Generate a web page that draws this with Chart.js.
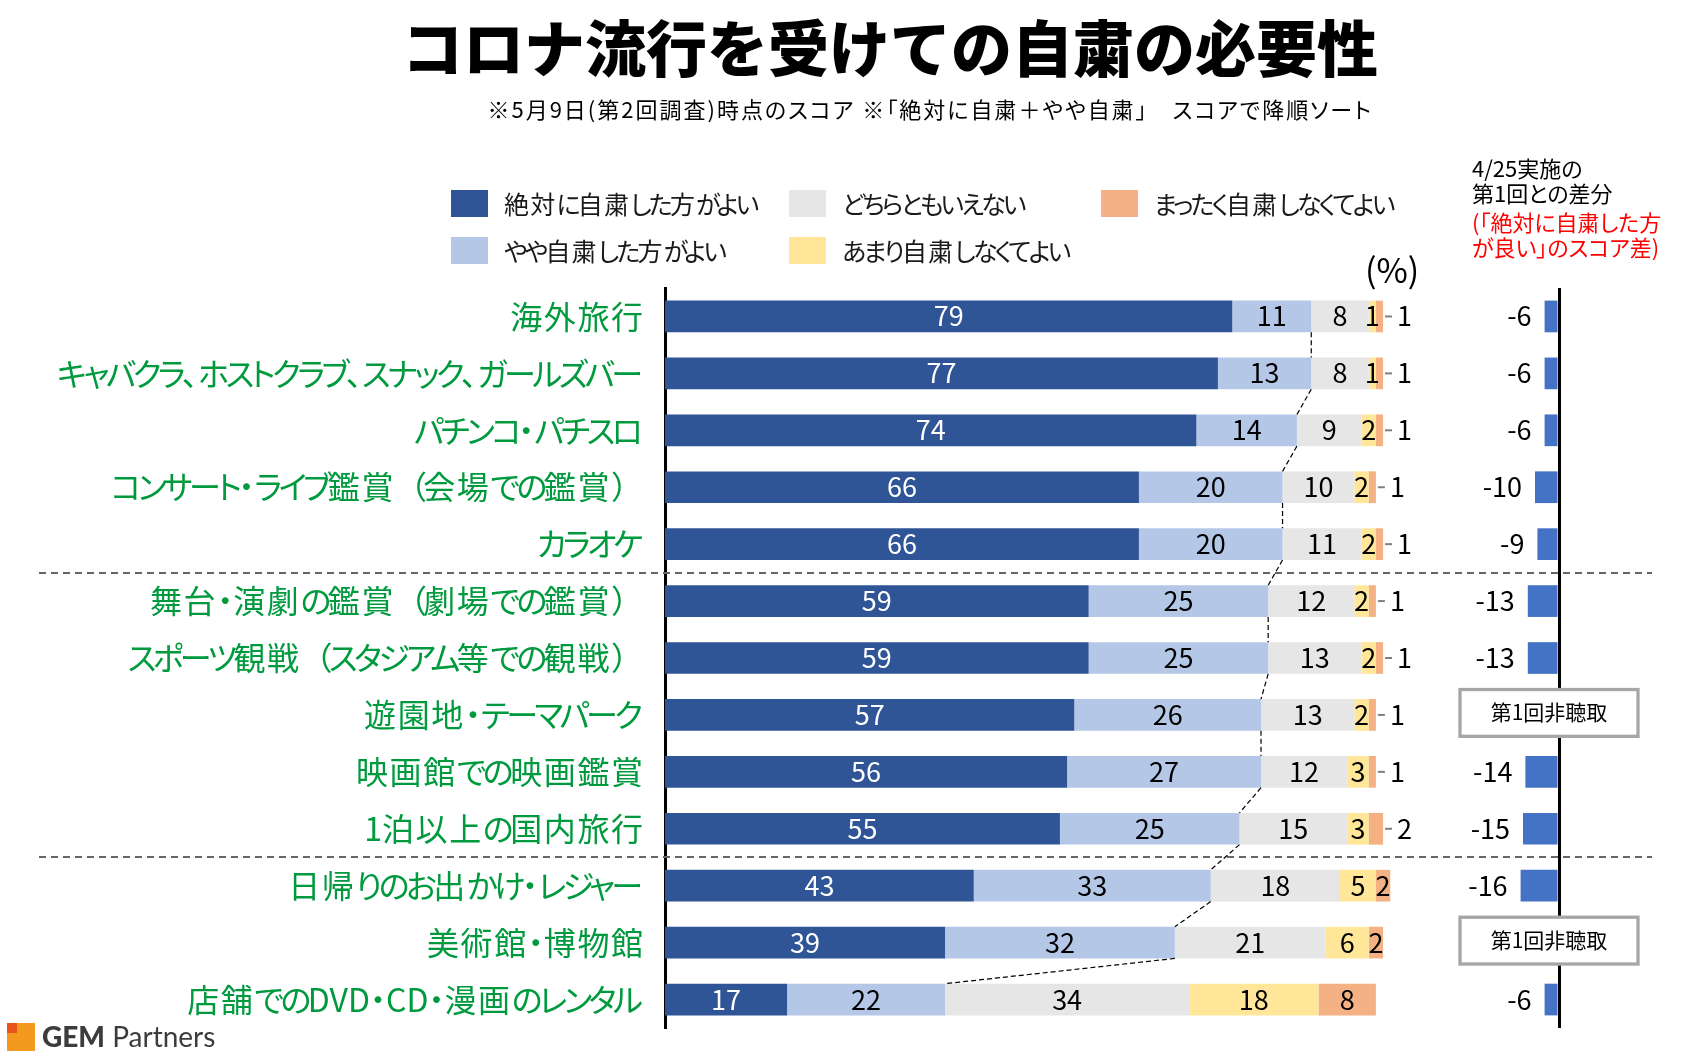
<!DOCTYPE html>
<html lang="ja">
<head>
<meta charset="utf-8">
<title>コロナ流行を受けての自粛の必要性</title>
<script src="https://cdn.jsdelivr.net/npm/chart.js@4.4.1/dist/chart.umd.min.js"></script>
<style>
  html, body { margin:0; padding:0; background:#fff; }
  body { width:1700px; height:1060px; position:relative; overflow:hidden;
         font-family:"Noto Sans CJK JP","Noto Sans",sans-serif; color:#1a1a1a; }
  #chart { position:absolute; left:0; top:0; }
  .abs { position:absolute; white-space:nowrap; }
  #title { left:390px; width:1000px; top:15px; text-align:center; font-size:61px; line-height:61px; font-weight:900; color:#000; }
  #subtitle { right:327px; top:97px; font-size:22px; line-height:22px; color:#000; font-feature-settings:"palt"; letter-spacing:2px; }
  #legend { position:absolute; left:451px; top:180px; display:grid; grid-template-columns:338px 312px auto; grid-template-rows:47.3px 47.3px; grid-auto-flow:column; }
  .li { display:flex; align-items:center; }
  .sw { width:37px; height:27px; margin-right:16px; flex:none; }
  .lt { font-size:25px; line-height:25px; color:#1a1a1a; font-feature-settings:"palt"; white-space:nowrap; }
  #pct { left:1365px; top:252px; font-size:34px; line-height:34px; color:#000; }
  .hdr { left:1472px; font-size:22px; line-height:25px; color:#000; font-feature-settings:"palt"; }
  .red { color:#ff0000; }
  .cat { position:absolute; right:1057px; font-size:32px; line-height:32px; color:#009A3E; white-space:nowrap; font-feature-settings:"palt"; }
  .kn { letter-spacing:-0.11em; }
  .kj { letter-spacing:0.05em; }
  .pr { font-feature-settings:normal; letter-spacing:-0.12em; }
  .last { letter-spacing:0 !important; }
  #logo { left:7px; top:1023px; }
</style>
</head>
<body>
<canvas id="chart" width="1700" height="1060"></canvas>
<div id="title" class="abs">コロナ流行を受けての自粛の必要性</div>
<div id="subtitle" class="abs">※5月9日(第2回調査)時点のスコア ※「絶対に自粛＋やや自粛」　スコアで降順ソート</div>
<div id="legend"></div>
<div id="pct" class="abs">(%)</div>
<div class="abs hdr" style="top:155px;">4/25実施の<br>第1回との差分</div>
<div class="abs hdr red" style="top:209px;line-height:24.5px;">(「絶対に自粛した方<br>が良い」のスコア差)</div>
<div id="logo" class="abs">
  <div style="position:absolute;left:0;top:0;width:28px;height:28px;background:#F39A1E"></div>
  <div style="position:absolute;left:0;top:0;width:10px;height:10px;background:#E8541C"></div>
  <div style="position:absolute;left:35px;top:-3px;font-family:Lato,'Noto Sans',sans-serif;font-size:28px;line-height:32px;color:#3c3c3c;white-space:nowrap;"><b style="font-weight:900">GEM</b> Partners</div>
</div>
<script>
// ---------- data ----------
const categories = [
  '海外旅行',
  'キャバクラ、ホストクラブ、スナック、ガールズバー',
  'パチンコ・パチスロ',
  'コンサート・ライブ鑑賞（会場での鑑賞）',
  'カラオケ',
  '舞台・演劇の鑑賞（劇場での鑑賞）',
  'スポーツ観戦（スタジアム等での観戦）',
  '遊園地・テーマパーク',
  '映画館での映画鑑賞',
  '1泊以上の国内旅行',
  '日帰りのお出かけ・レジャー',
  '美術館・博物館',
  '店舗でのDVD・CD・漫画のレンタル'
];
const seriesNames = ['絶対に自粛した方がよい', 'やや自粛した方がよい', 'どちらともいえない', 'あまり自粛しなくてよい', 'まったく自粛しなくてよい'];
const absolutely = [79, 77, 74, 66, 66, 59, 59, 57, 56, 55, 43, 39, 17];
const somewhat   = [11, 13, 14, 20, 20, 25, 25, 26, 27, 25, 33, 32, 22];
const neutral    = [ 8,  8,  9, 10, 11, 12, 13, 13, 12, 15, 18, 21, 34];
const notMuch    = [ 1,  1,  2,  2,  2,  2,  2,  2,  3,  3,  5,  6, 18];
const notAtAll   = [ 1,  1,  1,  1,  1,  1,  1,  1,  1,  2,  2,  2,  8];
const diffFromFirst = [-6, -6, -6, -10, -9, -13, -13, null, -14, -15, -16, null, -6];
const diffMissingText = '第1回非聴取';
const groupStarts = [5, 10];

// ---------- styles ----------
const seriesColors = ['#2F5597', '#B4C7E7', '#E6E6E6', '#FFE699', '#F4B183'];
const labelColors  = ['#FFFFFF', '#000000', '#000000', '#000000', '#000000'];
const diffColor = '#4472C4';
const seriesValues = [absolutely, somewhat, neutral, notMuch, notAtAll];
const NUM_FONT = '27px "Noto Sans CJK JP", "Noto Sans", sans-serif';

// per-character spacing to imitate a proportional Japanese UI font
function fillStyledText(el, text) {
  const chars = Array.from(text);
  chars.forEach((ch, idx) => {
    const s = document.createElement('span');
    s.textContent = ch;
    let cls = '';
    if (/[\u3041-\u309F\u30A0-\u30FA\u30FC-\u30FF]/.test(ch)) cls = 'kn';
    else if (/[（）]/.test(ch)) cls = 'pr';
    else if (/[\u4E00-\u9FFF]/.test(ch)) cls = 'kj';
    if (idx === chars.length - 1) cls += ' last';
    s.className = cls.trim();
    el.appendChild(s);
  });
}

// legend (HTML)
const legendEl = document.getElementById('legend');
seriesNames.forEach((n, i) => {
  const li = document.createElement('div'); li.className = 'li';
  const sw = document.createElement('div'); sw.className = 'sw'; sw.style.background = seriesColors[i];
  const lt = document.createElement('div'); lt.className = 'lt'; fillStyledText(lt, n);
  li.appendChild(sw); li.appendChild(lt); legendEl.appendChild(li);
});

function baselineFor(ctx, txt, cy) {
  const m = ctx.measureText(txt);
  return cy + (m.actualBoundingBoxAscent - m.actualBoundingBoxDescent) / 2;
}

const annotations = {
  id: 'annotations',
  beforeDatasetsDraw(chart) {
    const ctx = chart.ctx, y = chart.scales.y;
    ctx.save();
    ctx.strokeStyle = '#666666'; ctx.lineWidth = 2; ctx.setLineDash([7, 5]);
    groupStarts.forEach(k => {
      const py = Math.round((y.getPixelForValue(k - 1) + y.getPixelForValue(k)) / 2);
      ctx.beginPath(); ctx.moveTo(39, py); ctx.lineTo(1652, py); ctx.stroke();
    });
    ctx.restore();
  },
  afterDatasetsDraw(chart) {
    const ctx = chart.ctx;
    ctx.save();
    // connectors between top-2 boundaries
    const m1 = chart.getDatasetMeta(1).data;
    ctx.strokeStyle = '#000'; ctx.lineWidth = 1.2; ctx.setLineDash([5, 3]);
    for (let i = 0; i < m1.length - 1; i++) {
      const a = m1[i], b = m1[i + 1];
      ctx.beginPath();
      ctx.moveTo(a.x, a.y + a.height / 2);
      ctx.lineTo(b.x, b.y - b.height / 2);
      ctx.stroke();
    }
    ctx.setLineDash([]);
    // value labels
    ctx.font = NUM_FONT;
    for (let d = 0; d < 5; d++) {
      const meta = chart.getDatasetMeta(d);
      meta.data.forEach((el, i) => {
        const v = seriesValues[d][i];
        if (v == null) return;
        const txt = String(v);
        const by = baselineFor(ctx, txt, el.y);
        ctx.fillStyle = labelColors[d];
        if (d === 4 && notMuch[i] + notAtAll[i] <= 5) {
          ctx.strokeStyle = '#808080'; ctx.lineWidth = 2;
          ctx.beginPath(); ctx.moveTo(el.x + 2, el.y); ctx.lineTo(el.x + 9, el.y); ctx.stroke();
          ctx.textAlign = 'left';
          ctx.fillText(txt, el.x + 14, by);
        } else {
          ctx.textAlign = 'center';
          ctx.fillText(txt, (el.x + el.base) / 2, by);
        }
      });
    }
    // diff labels
    const md = chart.getDatasetMeta(5);
    md.data.forEach((el, i) => {
      const v = diffFromFirst[i];
      if (v == null) return;
      const txt = String(v);
      ctx.fillStyle = '#000'; ctx.textAlign = 'right';
      ctx.fillText(txt, Math.min(el.x, el.base) - 13, baselineFor(ctx, txt, el.y));
    });
    ctx.restore();
  },
  afterDraw(chart) {
    const ctx = chart.ctx, y = chart.scales.y, x2 = chart.scales.x2;
    ctx.save();
    diffFromFirst.forEach((v, i) => {
      if (v != null) return;
      const cy = y.getPixelForValue(i) - 2;
      const cx = x2.getPixelForValue(0) - 10;
      ctx.fillStyle = '#fff';
      ctx.fillRect(cx - 90, cy - 24.5, 180, 49);
      ctx.strokeStyle = '#A6A6A6'; ctx.lineWidth = 3.3;
      ctx.strokeRect(cx - 89, cy - 23.4, 178, 46.8);
      ctx.font = '21px "Noto Sans CJK JP", sans-serif';
      ctx.fillStyle = '#000'; ctx.textAlign = 'center';
      ctx.fillText(diffMissingText, cx, baselineFor(ctx, diffMissingText, cy));
    });
    ctx.restore();
  }
};

const datasets = seriesValues.map((vals, d) => ({
  label: seriesNames[d],
  data: vals,
  backgroundColor: seriesColors[d],
  xAxisID: 'x',
  stack: 's'
}));
datasets.push({
  label: '第1回との差分',
  data: diffFromFirst,
  backgroundColor: diffColor,
  xAxisID: 'x2',
  stack: 's'
});

const chart = new Chart(document.getElementById('chart'), {
  type: 'bar',
  data: { labels: categories, datasets },
  options: {
    indexAxis: 'y',
    responsive: false,
    animation: false,
    devicePixelRatio: 1,
    layout: { padding: { left: 665, right: 141, top: 288, bottom: 32 } },
    datasets: { bar: { categoryPercentage: 1, barPercentage: 0.557, borderWidth: 0 } },
    plugins: { legend: { display: false }, tooltip: { enabled: false }, title: { display: false } },
    scales: {
      y: {
        stacked: true,
        ticks: { display: false },
        grid: { display: true, drawOnChartArea: false, drawTicks: false, color: 'rgba(0,0,0,0)' },
        border: { display: true, color: '#000', width: 3 }
      },
      x: { stacked: true, display: false, min: 0, max: 124.5 },
      x2: {
        stacked: true, position: 'top', min: -372.5, max: 0,
        afterBuildTicks: (axis) => { axis.ticks = [{ value: 0 }]; },
        ticks: { display: false },
        grid: { color: '#000', lineWidth: 3, drawTicks: false, drawOnChartArea: true },
        border: { display: false }
      }
    }
  },
  plugins: [annotations]
});

// category labels positioned from the chart's own y scale
categories.forEach((c, i) => {
  const d = document.createElement('div');
  d.className = 'cat';
  fillStyledText(d, c);
  d.style.top = (chart.scales.y.getPixelForValue(i) - 17.8) + 'px';
  document.body.appendChild(d);
});
</script>
</body>
</html>
